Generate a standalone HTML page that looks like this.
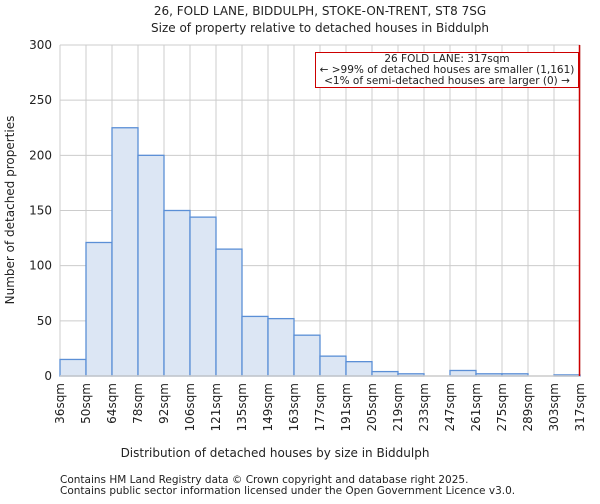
<!DOCTYPE html>
<html><head><meta charset="utf-8"><style>
body{margin:0;background:#fff;font-family:"DejaVu Sans","Liberation Sans",sans-serif}
svg text{font-family:"DejaVu Sans","Liberation Sans",sans-serif;fill:#222}
</style></head><body>
<svg id="c" width="600" height="500" xmlns="http://www.w3.org/2000/svg">
<text x="320" y="15" text-anchor="middle" font-size="12">26, FOLD LANE, BIDDULPH, STOKE-ON-TRENT, ST8 7SG</text>
<text x="320" y="32" text-anchor="middle" font-size="12">Size of property relative to detached houses in Biddulph</text>
<g id="grid"></g><g id="bars"></g><g id="axes"></g>
<text x="275" y="457" text-anchor="middle" font-size="12">Distribution of detached houses by size in Biddulph</text>
<text transform="translate(14,210) rotate(-90)" text-anchor="middle" font-size="12">Number of detached properties</text>
<text x="60" y="483" font-size="10.5" fill="#444">Contains HM Land Registry data © Crown copyright and database right 2025.</text>
<text x="60" y="494" font-size="10.5" fill="#444">Contains public sector information licensed under the Open Government Licence v3.0.</text>
</svg>
<script>
const categories=["36sqm","50sqm","64sqm","78sqm","92sqm","106sqm","121sqm","135sqm","149sqm","163sqm","177sqm","191sqm","205sqm","219sqm","233sqm","247sqm","261sqm","275sqm","289sqm","303sqm","317sqm"];
const counts=[15,121,225,200,150,144,115,54,52,37,18,13,4,2,0,5,2,2,0,1];
const yTicks=[0,50,100,150,200,250,300];
const markerIndex=20;
const L=60,R=580,T=45,B=376,yMax=300;
const NS="http://www.w3.org/2000/svg";
const bw=(R-L)/counts.length;
const x=i=>L+i*bw;
const y=v=>B-(v/yMax)*(B-T);
function mk(tag,attrs,parent){const e=document.createElementNS(NS,tag);for(const k in attrs)e.setAttribute(k,attrs[k]);parent.appendChild(e);return e;}
const grid=document.getElementById('grid'),bars=document.getElementById('bars'),axes=document.getElementById('axes');
yTicks.forEach(t=>{
 const l=mk('line',{x1:L,x2:R,y1:y(t),y2:y(t),stroke:'#ccc','stroke-width':1},grid);
 
 
 const tx=mk('text',{x:L-8,y:y(t)+4,'text-anchor':'end','font-size':12},axes);
 tx.textContent=t;
 
 
});
categories.forEach((c,i)=>{
 const l=mk('line',{x1:x(i),x2:x(i),y1:T,y2:B,stroke:'#ccc','stroke-width':1},grid);
 
 
 const tx=mk('text',{transform:`translate(${x(i)+4},${B+7}) rotate(-90)`,'text-anchor':'end','font-size':12},axes);
 tx.textContent=c;
 
 
});
counts.forEach((v,i)=>{
 const r=mk('rect',{x:x(i),y:y(v),width:bw,height:B-y(v),fill:'#dce6f4',stroke:'#5b8fd6','stroke-width':1.3},bars);
 
 
});
const ax=mk('line',{x1:L,x2:R,y1:B,y2:B,stroke:'#ccc','stroke-width':1.5},axes);


const ml=mk('line',{x1:x(markerIndex)-0.5,x2:x(markerIndex)-0.5,y1:T,y2:B,stroke:'#cc0000','stroke-width':1.5},axes);


const g=mk('g',{},axes);


mk('rect',{x:315.5,y:52.5,width:263,height:35,fill:'#fff',stroke:'#cc0000','stroke-width':1},g);
[["26 FOLD LANE: 317sqm",62],["← >99% of detached houses are smaller (1,161)",73],["<1% of semi-detached houses are larger (0) →",84]].forEach(([s,yy])=>{
 const t=mk('text',{x:447,y:yy,'text-anchor':'middle','font-size':10.5},g);
 t.textContent=s;
 
 
});
</script>
</body></html>
